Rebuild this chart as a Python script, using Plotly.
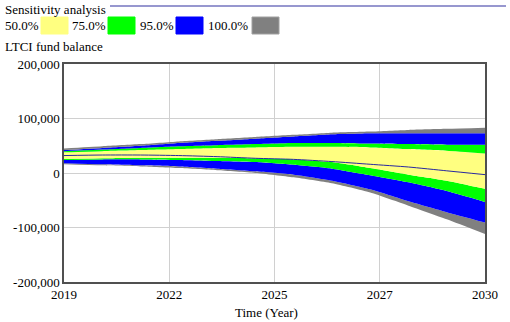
import plotly.graph_objects as go

years = [2019, 2020, 2021, 2022, 2023, 2024, 2025, 2026, 2027, 2028, 2029, 2030]
gray_top = [45000, 49000, 53000, 58000, 62000, 66000, 70000, 74000, 76000, 79000, 81000, 83000]
blue_top = [42000, 46000, 50000, 55000, 59000, 63000, 67000, 71000, 73000, 73000, 73000, 73000]
green_top = [40000, 43000, 46000, 49000, 51000, 53000, 55000, 55000, 54000, 53000, 52000, 52000]
yellow_top = [38000, 40000, 42000, 44000, 46000, 47000, 48000, 48000, 47000, 44000, 41000, 36000]
median = [32000, 33000, 33000, 32000, 30000, 27000, 25000, 21000, 16000, 11000, 4000, -3000]
yellow_bot = [26000, 27000, 28000, 28000, 28000, 27000, 25000, 20000, 9000, -3000, -14000, -29000]
green_bot = [24000, 25000, 25000, 24000, 22000, 20000, 15000, 8000, -4000, -17000, -33000, -53000]
blue_bot = [18000, 16000, 14000, 12000, 8000, 3000, -3000, -14000, -30000, -52000, -72000, -91000]
gray_bot = [16000, 14000, 12000, 9000, 5000, 0, -8000, -19000, -36000, -60000, -85000, -112000]

x_tickvals = [2019, 2021.75, 2024.5, 2027.25, 2030]
x_ticktext = ["2019", "2022", "2025", "2027", "2030"]
y_tickvals = [-200000, -100000, 0, 100000, 200000]
y_ticktext = ["-200,000", "-100,000", "0", "100,000", "200,000"]

legend_labels = ["50.0%", "75.0%", "95.0%", "100.0%"]
legend_colors = ["#FFFF80", "#00FF00", "#0000FF", "#808080"]

FONT = "Liberation Serif, Times New Roman, serif"

fig = go.Figure()
layers = [
    (gray_bot, None),
    (blue_bot, "#808080"),
    (green_bot, "#0000FF"),
    (yellow_bot, "#00FF00"),
    (yellow_top, "#FFFF80"),
    (green_top, "#00FF00"),
    (blue_top, "#0000FF"),
    (gray_top, "#808080"),
]
for vals, col in layers:
    if col is None:
        fig.add_trace(go.Scatter(x=years, y=vals, mode="lines", line=dict(width=0, shape="spline", smoothing=0.6),
                                 showlegend=False, hoverinfo="skip"))
    else:
        fig.add_trace(go.Scatter(x=years, y=vals, mode="lines", line=dict(width=0, shape="spline", smoothing=0.6),
                                 fill="tonexty", fillcolor=col, showlegend=False, hoverinfo="skip"))
fig.add_trace(go.Scatter(x=years, y=median, mode="lines",
                         line=dict(width=1, color="#2828A0", shape="spline", smoothing=0.6),
                         showlegend=False))

# plot area in pixels
L, R, T, B = 64, 485, 64, 282
W, H = 510, 322

def px(xp):
    return (xp - L) / (R - L)

def py(yp):
    return (B - yp) / (B - T)

shapes = []
annotations = []
shapes.append(dict(type="line", xref="paper", yref="paper", x0=px(110), x1=px(506), y0=py(6), y1=py(6),
                   line=dict(color="#3030A0", width=1.2)))
annotations.append(dict(text="Sensitivity analysis", xref="paper", yref="paper", x=px(3), y=py(10),
                        xanchor="left", yanchor="middle", showarrow=False, font=dict(family=FONT, size=13, color="#000")))
text_x = [3, 70, 138, 206]
sw_x = [41, 108, 176, 252]
for lab, col, tx, sx in zip(legend_labels, legend_colors, text_x, sw_x):
    annotations.append(dict(text=lab, xref="paper", yref="paper", x=px(tx), y=py(25),
                            xanchor="left", yanchor="middle", showarrow=False,
                            font=dict(family=FONT, size=13, color="#000")))
    shapes.append(dict(type="rect", xref="paper", yref="paper", x0=px(sx), x1=px(sx + 27),
                       y0=py(34), y1=py(17), fillcolor=col,
                       line=dict(color="#A0A0A0" if col == "#808080" else col, width=1)))
annotations.append(dict(text="LTCI fund balance", xref="paper", yref="paper", x=px(3), y=py(46),
                        xanchor="left", yanchor="middle", showarrow=False, font=dict(family=FONT, size=13, color="#000")))
annotations.append(dict(text="Time (Year)", xref="paper", yref="paper", x=px(266), y=py(312),
                        xanchor="center", yanchor="middle", showarrow=False, font=dict(family=FONT, size=13, color="#000")))

fig.update_layout(
    width=W, height=H,
    margin=dict(l=L, r=W - R, t=T, b=H - B),
    paper_bgcolor="white", plot_bgcolor="white",
    shapes=shapes, annotations=annotations,
    font=dict(family=FONT, size=13, color="#000"),
    showlegend=False,
)
fig.update_xaxes(range=[2019, 2030], tickvals=x_tickvals, ticktext=x_ticktext,
                 showgrid=True, gridcolor="#D0D0D0", gridwidth=1,
                 showline=True, linecolor="#505050", linewidth=1.5, mirror=True,
                 zeroline=False, ticks="", layer="above traces",
                 tickfont=dict(family=FONT, size=13, color="#000"))
fig.update_yaxes(range=[-200000, 200000], tickvals=y_tickvals, ticktext=y_ticktext,
                 showgrid=True, gridcolor="#D0D0D0", gridwidth=1,
                 showline=True, linecolor="#505050", linewidth=1.5, mirror=True,
                 zeroline=False, ticks="", layer="above traces",
                 tickfont=dict(family=FONT, size=13, color="#000"))

fig.write_html("out.html", config={"displayModeBar": False},
               post_script="document.body.style.margin='0px';document.body.style.overflow='hidden';")
